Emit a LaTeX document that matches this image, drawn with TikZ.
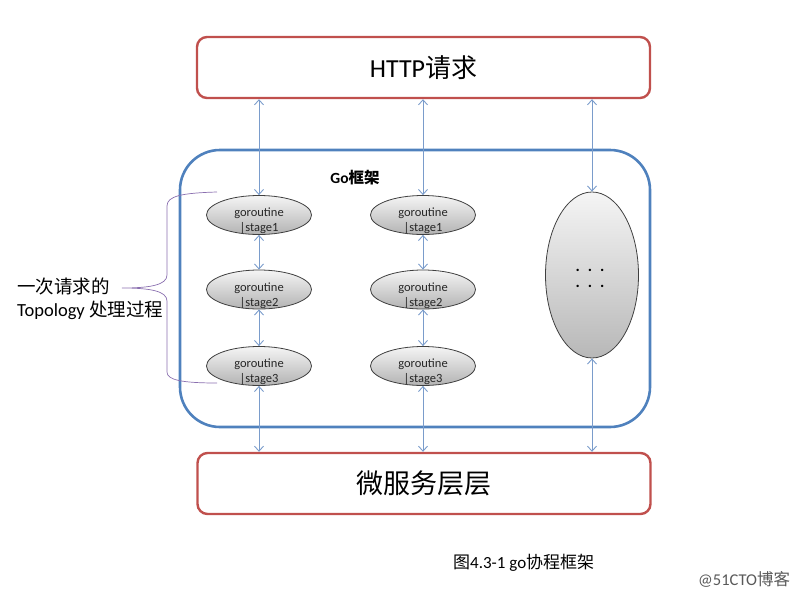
\documentclass[tikz,border=0pt]{standalone}
\usepackage{fontspec}
\setmainfont{Carlito}
\newfontfamily\cjk{Noto Sans CJK SC}
\usetikzlibrary{arrows.meta,shapes.geometric}
\definecolor{boxred}{HTML}{C0504D}
\definecolor{frameblue}{HTML}{4F81BD}
\definecolor{arrowblue}{HTML}{7A9CCB}
\definecolor{bracepurple}{HTML}{8A6FAF}
\begin{document}
\begin{tikzpicture}[x=1pt,y=-1pt,
  redbox/.style={draw=boxred, line width=2.4pt, rounded corners=10pt, fill=white,
    minimum width=453pt, minimum height=61pt, inner sep=0pt},
  gor/.style={ellipse, draw=black!75, line width=0.8pt, top color=black!4, bottom color=black!30,
    minimum width=105pt, minimum height=39pt, inner sep=0pt},
  gortext/.style={font=\fontsize{12.5}{15}\selectfont, align=center, inner sep=0pt, text=black!85},
  conn/.style={arrowblue, line width=0.9pt, {Straight Barb[length=5pt,width=9pt]}-{Straight Barb[length=5pt,width=9pt]}},
]
\useasboundingbox (0,0) rectangle (806,597);
% top and bottom boxes
\node[redbox] (http) at (423.5,67.5) {\fontsize{26}{30}\selectfont HTTP{\cjk 请求}};
\node[redbox] (micro) at (424,483.5) {\fontsize{27}{30}\selectfont\cjk 微服务层层};
% Go frame
\node[draw=frameblue, line width=2.6pt, rounded corners=40pt, minimum width=470pt,
  minimum height=277pt, inner sep=0pt] (frame) at (415,288.5) {};
\node[font=\fontsize{15.5}{18}\selectfont\bfseries] (golabel) at (355,178) {Go{\cjk 框架}};
% goroutine ellipses
\foreach \c/\x in {1/259,2/423}{
  \foreach \r/\y in {1/215,2/289.5,3/366}{
    \node[gor] (s\c\r) at (\x,\y) {};
    \node[gortext] (t\c\r) at (\x,\y+6) {goroutine\\|stage\r};
  }
}
% big ellipse
\node[ellipse, draw=black!75, line width=0.8pt, top color=black!4, bottom color=black!28,
  minimum width=93pt, minimum height=166pt, inner sep=0pt] (big) at (592,275) {};
\node[font=\fontsize{16}{16}\selectfont\bfseries, align=center, inner sep=0pt] (dots) at (590,278)
  {.\hspace{8pt}.\hspace{8pt}.\\.\hspace{8pt}.\hspace{8pt}.};
% connectors
\foreach \c in {1,2}{
  \draw[conn] (s\c1.north |- http.south) -- (s\c1.north);
  \draw[conn] (s\c1.south) -- (s\c2.north);
  \draw[conn] (s\c2.south) -- (s\c3.north);
  \draw[conn] (s\c3.south) -- (s\c3.south |- micro.north);
}
\draw[conn] (big.north |- http.south) -- (big.north);
\draw[conn] (big.south) -- (big.south |- micro.north);
% brace and label
\node[anchor=west, align=left, inner sep=0pt, font=\fontsize{18.5}{23}\selectfont] (topo) at (17,299)
  {{\cjk 一次请求的}\\Topology {\cjk 处理过程}};
\coordinate (tip) at (122,288);
\draw[bracepurple, line width=0.7pt] (217,192) .. controls (182,193) and (167,196) .. (167,206)
  -- (167,275) .. controls (167,285) and (150,288) .. (tip)
  .. controls (150,288) and (167,291) .. (167,301)
  -- (167,372) .. controls (167,380) and (182,383) .. (217,383);
% caption and watermark
\node[anchor=west, inner sep=0pt, font=\fontsize{17}{20}\selectfont] (caption) at (453,563)
  {{\cjk 图}4.3-1 go{\cjk 协程框架}};
\node[anchor=west, inner sep=0pt, font=\fontsize{16.5}{20}\selectfont, text=black!65] (wm) at (698,579)
  {@51CTO{\cjk 博客}};
\end{tikzpicture}
\end{document}
